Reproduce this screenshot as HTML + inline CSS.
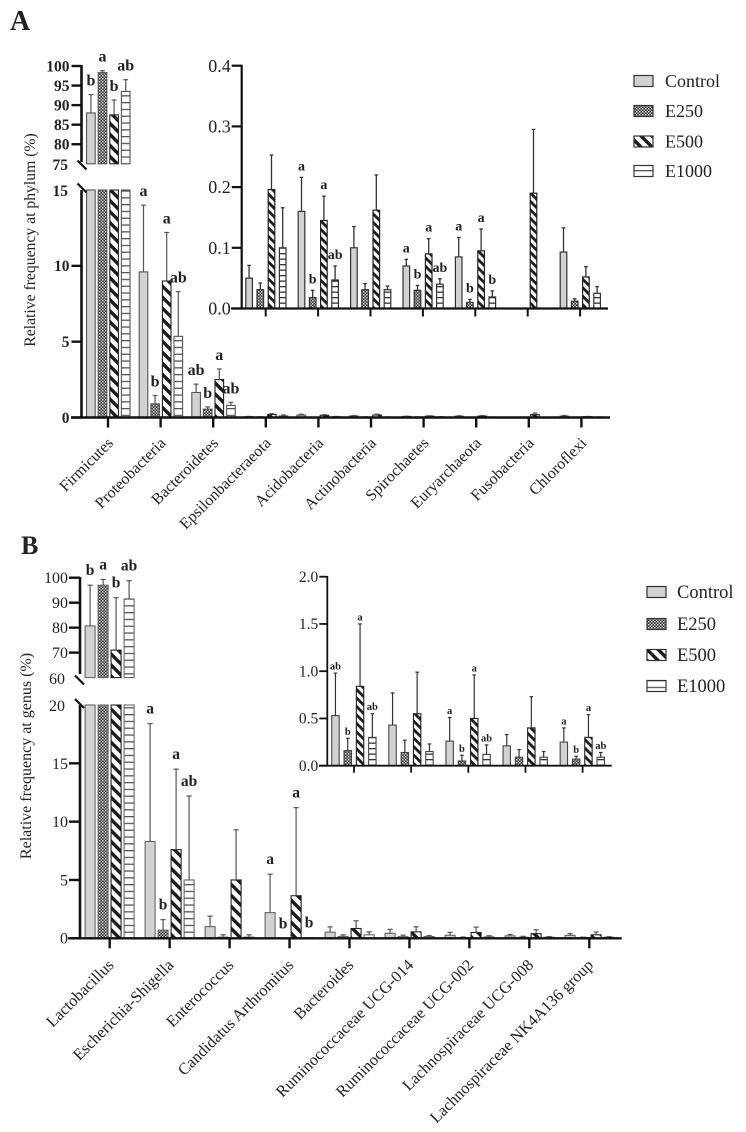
<!DOCTYPE html>
<html lang="en">
<head>
<meta charset="utf-8">
<title>Relative frequency at phylum and genus level</title>
<style>
html,body{margin:0;padding:0;background:#fff;}
#stage{position:relative;width:746px;height:1132px;overflow:hidden;background:#fff;}
svg{display:block;filter:blur(0.35px);}
text{font-family:"Liberation Serif",serif;fill:#222;}
</style>
</head>
<body>
<div id="stage">
<svg id="chart" width="746" height="1132" viewBox="0 0 746 1132" xmlns="http://www.w3.org/2000/svg">
<defs>
<pattern id="p-control" patternUnits="userSpaceOnUse" width="4" height="4"><rect width="4" height="4" fill="#d2d2d2"/></pattern>
<pattern id="p-e250" patternUnits="userSpaceOnUse" width="3" height="3"><rect width="3" height="3" fill="#333"/><rect width="1.4" height="1.4" fill="#e8e8e8"/><rect x="1.5" y="1.5" width="1.4" height="1.4" fill="#ccc"/></pattern>
<pattern id="p-e500" patternUnits="userSpaceOnUse" width="7.8" height="7.8" patternTransform="rotate(45)"><rect width="7.8" height="7.8" fill="#fff"/><rect width="7.8" height="3.4" fill="#1c1c1c"/></pattern>
<pattern id="p-e1000" patternUnits="userSpaceOnUse" width="6.8" height="6.8"><rect width="6.8" height="6.8" fill="#fff"/><rect width="6.8" height="1.3" fill="#555"/></pattern>
<pattern id="p-e500s" patternUnits="userSpaceOnUse" width="6" height="6" patternTransform="rotate(45)"><rect width="6" height="6" fill="#fff"/><rect width="6" height="2.8" fill="#1c1c1c"/></pattern>
<pattern id="p-e1000s" patternUnits="userSpaceOnUse" width="5.5" height="5.5"><rect width="5.5" height="5.5" fill="#fff"/><rect width="5.5" height="1.3" fill="#333"/></pattern>
</defs>
</svg>
</div>
<script>
const seriesNames = ['Control', 'E250', 'E500', 'E1000'];

const phylumCategories = ['Firmicutes', 'Proteobacteria', 'Bacteroidetes', 'Epsilonbacteraeota', 'Acidobacteria', 'Actinobacteria', 'Spirochaetes', 'Euryarchaeota', 'Fusobacteria', 'Chloroflexi'];
const phylumControl = [88, 9.6, 1.65, 0.05, 0.16, 0.1, 0.07, 0.085, 0, 0.093];
const phylumE250 = [98.3, 0.9, 0.55, 0.031, 0.018, 0.031, 0.03, 0.01, 0, 0.012];
const phylumE500 = [87.5, 9, 2.5, 0.196, 0.145, 0.162, 0.09, 0.095, 0.19, 0.052];
const phylumE1000 = [93.5, 5.35, 0.8, 0.1, 0.047, 0.031, 0.04, 0.019, 0, 0.025];
const phylumErrControl = [92.7, 14, 2.2, 0.071, 0.216, 0.135, 0.081, 0.117, 0, 0.133];
const phylumErrE250 = [98.8, 1.45, 0.7, 0.042, 0.03, 0.041, 0.038, 0.015, 0, 0.016];
const phylumErrE500 = [91.3, 12.2, 3.2, 0.253, 0.185, 0.22, 0.115, 0.131, 0.295, 0.069];
const phylumErrE1000 = [96.5, 8.3, 1, 0.166, 0.07, 0.037, 0.049, 0.029, 0, 0.036];
const phylumLettersControl = ['b', 'a', 'ab', '', 'a', '', 'a', 'a', '', ''];
const phylumLettersE250 = ['a', 'b', 'b', '', 'b', '', 'b', 'b', '', ''];
const phylumLettersE500 = ['b', 'a', 'a', '', 'a', '', 'a', 'a', '', ''];
const phylumLettersE1000 = ['ab', 'ab', 'ab', '', 'ab', '', 'ab', 'b', '', ''];

const genusCategories = ['Lactobacillus', 'Escherichia-Shigella', 'Enterococcus', 'Candidatus Arthromitus', 'Bacteroides', 'Ruminococcaceae UCG-014', 'Ruminococcaceae UCG-002', 'Lachnospiraceae UCG-008', 'Lachnospiraceae NK4A136 group'];
const genusControl = [80.7, 8.3, 1, 2.2, 0.53, 0.43, 0.26, 0.21, 0.25];
const genusE250 = [97, 0.7, 0.1, 0, 0.16, 0.14, 0.05, 0.09, 0.07];
const genusE500 = [71, 7.6, 5, 3.65, 0.84, 0.55, 0.5, 0.4, 0.3];
const genusE1000 = [91.5, 5, 0.1, 0.05, 0.3, 0.15, 0.12, 0.09, 0.09];
const genusErrControl = [97, 18.4, 1.9, 5.5, 0.98, 0.77, 0.51, 0.33, 0.4];
const genusErrE250 = [99.3, 1.6, 0.3, 0, 0.29, 0.27, 0.11, 0.17, 0.1];
const genusErrE500 = [92, 14.5, 9.3, 11.2, 1.5, 0.99, 0.96, 0.73, 0.54];
const genusErrE1000 = [98.8, 12.2, 0.3, 0.05, 0.55, 0.23, 0.22, 0.15, 0.14];
const genusLettersControl = ['b', 'a', '', 'a', 'ab', '', 'a', '', 'a'];
const genusLettersE250 = ['a', 'b', '', 'b', 'b', '', 'b', '', 'b'];
const genusLettersE500 = ['b', 'a', '', 'a', 'a', '', 'a', '', 'a'];
const genusLettersE1000 = ['ab', 'ab', '', 'b', 'ab', '', 'ab', '', 'ab'];

const phylumUpperTicks = [75, 80, 85, 90, 95, 100];
const phylumLowerTicks = [0, 5, 10, 15];
const phylumInsetTicks = ['0.0', '0.1', '0.2', '0.3', '0.4'];
const genusUpperTicks = [60, 70, 80, 90, 100];
const genusLowerTicks = [0, 5, 10, 15, 20];
const genusInsetTicks = ['0.0', '0.5', '1.0', '1.5', '2.0'];

const svg = document.getElementById('chart');
const NS = 'http://www.w3.org/2000/svg';

function make(tag, attrs, parent) {
  const el = document.createElementNS(NS, tag);
  for (const k in attrs) el.setAttribute(k, attrs[k]);
  (parent || svg).appendChild(el);
  return el;
}
function scale(d0, d1, r0, r1) {
  return v => r0 + (v - d0) * (r1 - r0) / (d1 - d0);
}
function label(str, x, y, size, weight, anchor, rotate, name, parent) {
  const attrs = { x: x, y: y, 'font-size': size, 'font-weight': weight, 'text-anchor': anchor };
  if (rotate) attrs.transform = 'rotate(' + rotate + ' ' + x + ' ' + y + ')';
  const el = make('text', attrs, parent);
  el.textContent = str;
  
  
  return el;
}
function stroke(x1, y1, x2, y2, width, color, name, parent) {
  const el = make('line', { x1: x1, y1: y1, x2: x2, y2: y2, stroke: color, 'stroke-width': width }, parent);
  
  
  return el;
}
function slug(s) { return s.toLowerCase().replace(/[^a-z0-9]+/g, '-'); }

/* cfg.segments is an ordered list of {lo,hi,y} axis pieces; each bar is drawn through all of them */
function drawBars(cfg) {
  const g = make('g', {});
  
  
  cfg.values.forEach((series, s) => {
    series.forEach((val, i) => {
      const cx = cfg.x0 + i * cfg.groupStep + (s - 1.5) * cfg.barStep;
      const tag = cfg.name + '-' + slug(cfg.categories[i]) + '-' + slug(seriesNames[s]);
      const err = cfg.errors[s][i];
      const seg = cfg.segments.find(k => err > k.lo && err <= k.hi) || cfg.segments[cfg.segments.length - 1];
      if (val > 0) {
        cfg.segments.forEach(part => {
          if (val <= part.lo) return;
          const top = part.y(Math.min(val, part.hi));
          const bot = part.y(part.lo);
          const bar = make('rect', { x: cx - cfg.barW / 2, y: top, width: cfg.barW, height: Math.max(bot - top, 0.4), fill: 'url(#' + cfg.fills[s] + ')', stroke: s === 2 ? '#222' : cfg.barStroke, 'stroke-width': cfg.barLine }, g);
          
          
        });
        if (err > val) {
          const yErr = seg.y(err);
          const segVal = cfg.segments.find(k => val > k.lo && val <= k.hi) || seg;
          stroke(cx, segVal.y(val), cx, yErr, cfg.errW, cfg.errColor, 'error-bar-' + tag, g);
          stroke(cx - cfg.cap, yErr, cx + cfg.cap, yErr, cfg.errW, cfg.errColor, 'error-cap-' + tag, g);
        }
      }
      const letter = cfg.letters[s][i];
      if (letter && i < cfg.letterLimit) {
        const yTop = seg.y(Math.max(err, val));
        label(letter, cx, yTop - cfg.letterGap, cfg.letterSize, 'bold', 'middle', 0, 'significance-' + tag, g);
      }
    });
  });
}
function drawAxisTicks(labels, y, axisX, tickLen, size, weight, gap, name, width) {
  labels.forEach(t => {
    const yy = y(Number(t));
    stroke(axisX - tickLen, yy, axisX, yy, width, '#111', name + '-tick-' + t);
    label(String(t), axisX - tickLen - gap, yy + size * 0.34, size, weight, 'end', 0, name + '-label-' + t);
  });
}
function drawCategoryTicks(n, x0, step, y, len, width, name) {
  for (let i = 0; i < n; i++) {
    stroke(x0 + i * step, y, x0 + i * step, y + len, width, '#111', name + '-tick-' + i);
  }
}
function drawCategoryLabels(cats, x0, step, y, size, dx) {
  cats.forEach((c, i) => {
    label(c, x0 + i * step + dx, y, size, 'normal', 'end', -45, 'x-label-' + slug(c));
  });
}
function drawLegend(x, ys, textX, size, prefix) {
  const fills = ['p-control', 'p-e250', 'p-e500', 'p-e1000'];
  seriesNames.forEach((n, i) => {
    const r = make('rect', { x: x, y: ys[i] - 5.5, width: 19, height: 11, fill: 'url(#' + fills[i] + ')', stroke: '#333', 'stroke-width': 1.2 });
    
    
    label(n, textX, ys[i] + 5.8, size, 'normal', 'start', 0, prefix + '-label-' + slug(n));
  });
}

/* ---------- Panel A ---------- */
label('A', 10, 30, 28, 'bold', 'start', 0, 'panel-a-letter');
const aUpper = scale(75, 100, 163.8, 66);
const aLower = scale(0, 15, 417.5, 190);
const aInset = scale(0, 0.4, 308.5, 65.7);
drawBars({
  name: 'phylum-main', categories: phylumCategories,
  values: [phylumControl, phylumE250, phylumE500, phylumE1000],
  errors: [phylumErrControl, phylumErrE250, phylumErrE500, phylumErrE1000],
  letters: [phylumLettersControl, phylumLettersE250, phylumLettersE500, phylumLettersE1000],
  letterLimit: 3, letterGap: 9, letterSize: 16,
  segments: [{ lo: 75, hi: 100, y: aUpper }, { lo: 0, hi: 15, y: aLower }],
  x0: 108.3, groupStep: 52.6, barStep: 11.6, barW: 8.6, barLine: 1.1, barStroke: '#555',
  fills: ['p-control', 'p-e250', 'p-e500', 'p-e1000'],
  errW: 1.2, errColor: '#555', cap: 2.4
});
stroke(81.5, 65, 81.5, 162, 2.6, '#111', 'phylum-y-axis-upper');
stroke(81.5, 190, 81.5, 418.5, 2.6, '#111', 'phylum-y-axis-lower');
stroke(77.5, 160.5, 86.5, 169.5, 2.2, '#111', 'phylum-axis-break-upper');
stroke(77.5, 183.5, 86.5, 192.5, 2.2, '#111', 'phylum-axis-break-lower');
stroke(71, 417.5, 610, 417.5, 2.4, '#111', 'phylum-x-axis');
drawCategoryTicks(10, 108, 52.6, 417.5, 10, 2.4, 'phylum-x');
drawAxisTicks(phylumUpperTicks.slice(1), aUpper, 81.5, 10, 15.5, 'bold', 2, 'phylum-y-upper', 2.4);
label('75', 68, 170, 15.5, 'bold', 'end', 0, 'phylum-y-upper-label-75');
drawAxisTicks(phylumLowerTicks.slice(0, 3), aLower, 81.5, 10, 15.5, 'bold', 2, 'phylum-y-lower', 2.4);
label('15', 68, 196, 15.5, 'bold', 'end', 0, 'phylum-y-lower-label-15');
label('Relative frequency at phylum (%)', 35, 240, 15.7, 'normal', 'middle', -90, 'phylum-y-axis-title');
drawCategoryLabels(phylumCategories, 108, 52.6, 444, 16, 6);

drawBars({
  name: 'phylum-inset', categories: phylumCategories.slice(3),
  values: [phylumControl, phylumE250, phylumE500, phylumE1000].map(a => a.slice(3)),
  errors: [phylumErrControl, phylumErrE250, phylumErrE500, phylumErrE1000].map(a => a.slice(3)),
  letters: [phylumLettersControl, phylumLettersE250, phylumLettersE500, phylumLettersE1000].map(a => a.slice(3)),
  letterLimit: 7, letterGap: 7, letterSize: 14,
  segments: [{ lo: 0, hi: 0.4, y: aInset }],
  x0: 265.9, groupStep: 52.4, barStep: 11.2, barW: 6.6, barLine: 1.2, barStroke: '#333',
  fills: ['p-control', 'p-e250', 'p-e500s', 'p-e1000s'],
  errW: 1.3, errColor: '#333', cap: 1.8
});
stroke(241.7, 64.7, 241.7, 309.5, 2.2, '#111', 'phylum-inset-y-axis');
stroke(231, 308.5, 608, 308.5, 2.2, '#111', 'phylum-inset-x-axis');
drawCategoryTicks(7, 265.7, 52.4, 308.5, 8, 2, 'phylum-inset-x');
drawAxisTicks(phylumInsetTicks, aInset, 241.7, 10, 18, 'normal', 1, 'phylum-inset-y', 2.2);
drawLegend(634, [81, 111, 141.5, 171], 665, 18, 'phylum-legend');

/* ---------- Panel B ---------- */
label('B', 21, 554, 26, 'bold', 'start', 0, 'panel-b-letter');
const bUpper = scale(60, 100, 677.6, 577.7);
const bLower = scale(0, 20, 938.3, 705);
const bInset = scale(0, 2, 765.7, 576.7);
drawBars({
  name: 'genus-main', categories: genusCategories,
  values: [genusControl, genusE250, genusE500, genusE1000],
  errors: [genusErrControl, genusErrE250, genusErrE500, genusErrE1000],
  letters: [genusLettersControl, genusLettersE250, genusLettersE500, genusLettersE1000],
  letterLimit: 4, letterGap: 10, letterSize: 15.5,
  segments: [{ lo: 60, hi: 100, y: bUpper }, { lo: 0, hi: 20, y: bLower }],
  x0: 109.6, groupStep: 60, barStep: 13, barW: 10, barLine: 1.1, barStroke: '#666',
  fills: ['p-control', 'p-e250', 'p-e500', 'p-e1000'],
  errW: 1.2, errColor: '#555', cap: 2.6
});
stroke(80, 577, 80, 674, 2.6, '#111', 'genus-y-axis-upper');
stroke(80, 705, 80, 939.3, 2.6, '#111', 'genus-y-axis-lower');
stroke(75, 675.5, 84, 684.5, 2.2, '#111', 'genus-axis-break-upper');
stroke(75, 699, 84, 708, 2.2, '#111', 'genus-axis-break-lower');
stroke(68, 938.3, 621.7, 938.3, 2.4, '#111', 'genus-x-axis');
drawCategoryTicks(9, 109.7, 59.95, 938.3, 10, 2.4, 'genus-x');
drawAxisTicks(genusUpperTicks.slice(1), bUpper, 80, 11, 16, 'normal', 1, 'genus-y-upper', 2.4);
label('60', 65, 684, 16, 'normal', 'end', 0, 'genus-y-upper-label-60');
drawAxisTicks(genusLowerTicks.slice(0, 4), bLower, 80, 11, 16, 'normal', 1, 'genus-y-lower', 2.4);
label('20', 65, 711, 16, 'normal', 'end', 0, 'genus-y-lower-label-20');
label('Relative frequency at genus (%)', 31, 756, 16, 'normal', 'middle', -90, 'genus-y-axis-title');
drawCategoryLabels(genusCategories, 109.7, 59.95, 966, 16.3, 5);

drawBars({
  name: 'genus-inset', categories: genusCategories.slice(4),
  values: [genusControl, genusE250, genusE500, genusE1000].map(a => a.slice(4)),
  errors: [genusErrControl, genusErrE250, genusErrE500, genusErrE1000].map(a => a.slice(4)),
  letters: [genusLettersControl, genusLettersE250, genusLettersE500, genusLettersE1000].map(a => a.slice(4)),
  letterLimit: 5, letterGap: 3.5, letterSize: 10.5,
  segments: [{ lo: 0, hi: 2, y: bInset }],
  x0: 353.9, groupStep: 57.1, barStep: 12.3, barW: 7.4, barLine: 1.1, barStroke: '#444',
  fills: ['p-control', 'p-e250', 'p-e500s', 'p-e1000s'],
  errW: 1.2, errColor: '#333', cap: 1.8
});
stroke(327.3, 576, 327.3, 766.5, 1.8, '#111', 'genus-inset-y-axis');
stroke(319, 765.7, 611.7, 765.7, 1.8, '#111', 'genus-inset-x-axis');
drawCategoryTicks(5, 354, 57.15, 765.7, 7, 1.8, 'genus-inset-x');
drawAxisTicks(genusInsetTicks, bInset, 327.3, 8, 15.5, 'normal', 1, 'genus-inset-y', 1.8);
drawLegend(647, [592, 624, 655, 686], 677, 18.5, 'genus-legend');
</script>
</body>
</html>
